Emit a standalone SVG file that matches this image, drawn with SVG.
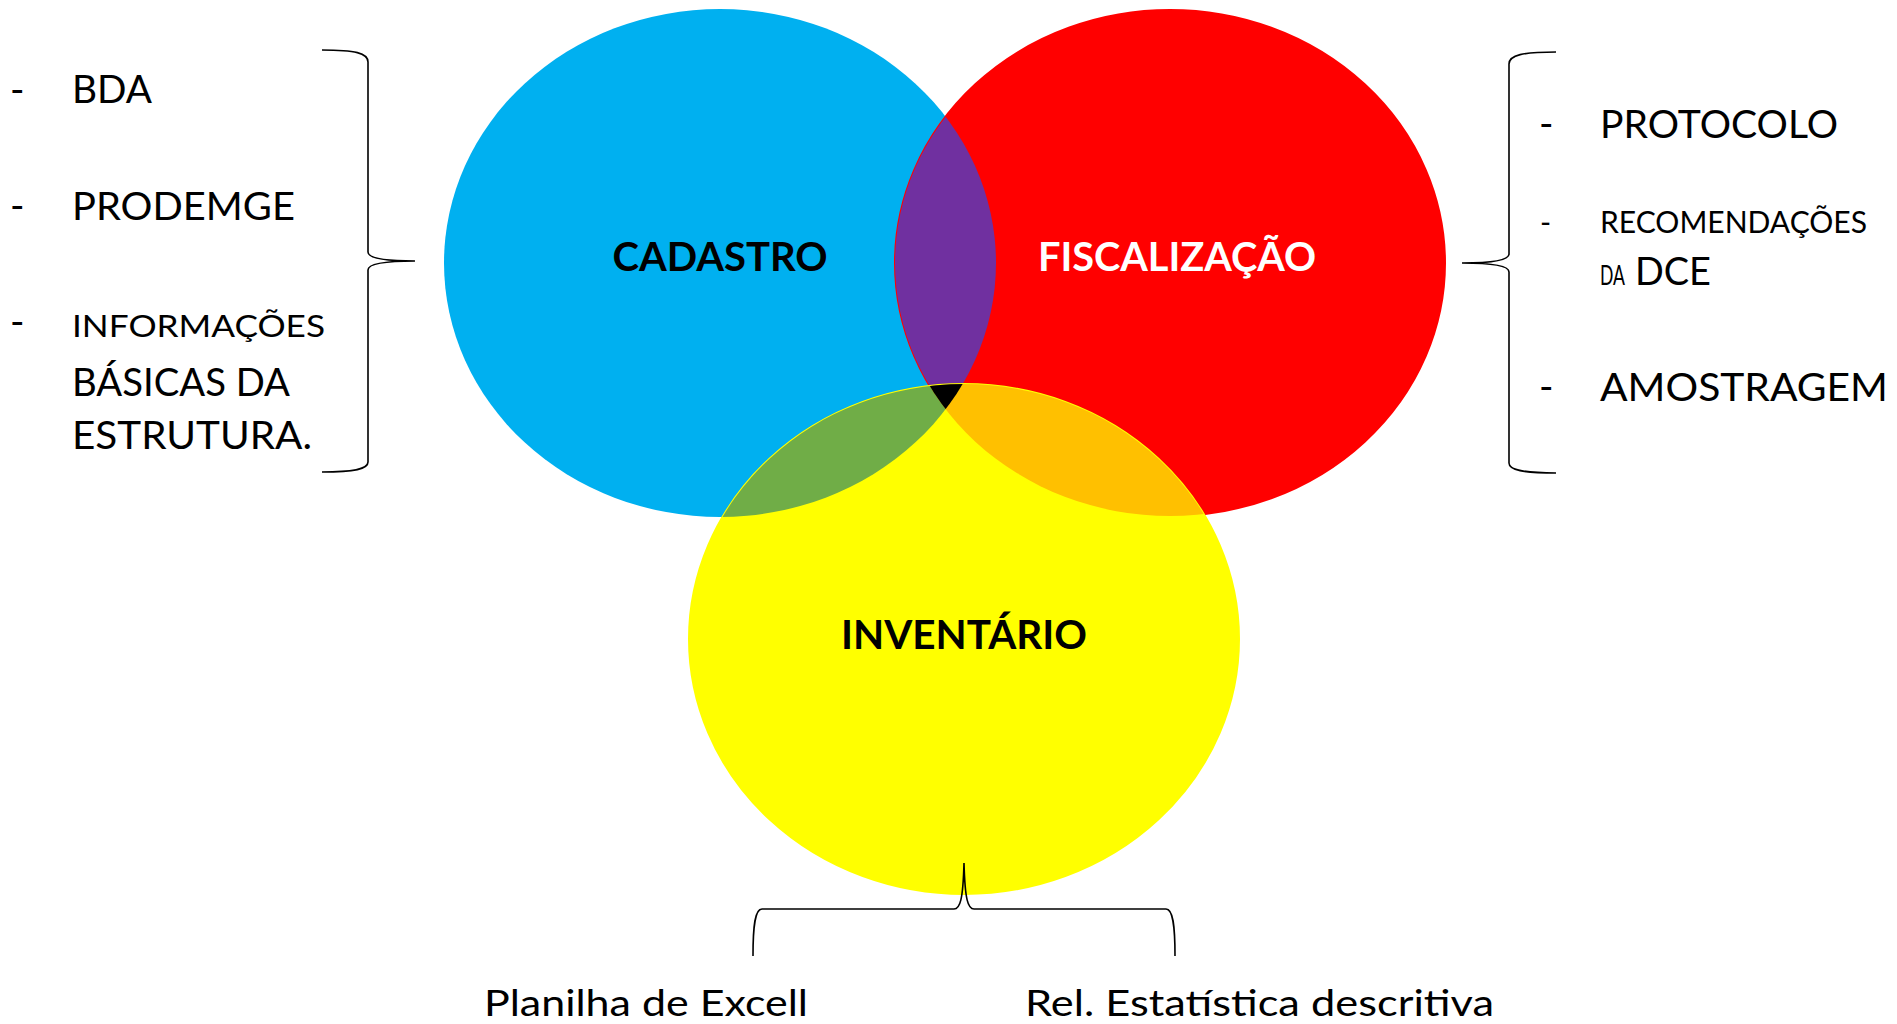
<svg xmlns="http://www.w3.org/2000/svg" width="1897" height="1024" viewBox="0 0 1897 1024">
<style>
  .t { font-family: Lato, "Liberation Sans", sans-serif; fill: #000; }
  .big { font-size: 39px; }
  .small { font-size: 30px; }
  .lbl { font-family: Lato, "Liberation Sans", sans-serif; font-weight: bold; font-size: 40.5px; text-anchor: middle; }
  .brace { fill: none; stroke: #000; stroke-width: 1.6; }
</style>
<defs>
  <clipPath id="cBlue"><ellipse cx="720" cy="263" rx="276" ry="254"/></clipPath>
  <clipPath id="cRed"><ellipse cx="1170" cy="263" rx="275" ry="253"/></clipPath>
</defs>
<rect width="1897" height="1024" fill="#fff"/>

<g id="venn">
  <ellipse id="cadastro-shape" cx="720" cy="263" rx="276" ry="254" fill="#00B0F0"/>
  <ellipse id="fiscalizacao-shape" cx="1170" cy="263" rx="275" ry="253" fill="#FF0000" stroke="#FF0000" stroke-width="2"/>
  <ellipse cx="1170" cy="263" rx="275" ry="253" fill="#7030A0" clip-path="url(#cBlue)"/>
  <ellipse id="inventario-shape" cx="964" cy="639" rx="275" ry="255" fill="#FFFF00" stroke="#FFFF00" stroke-width="2"/>
  <ellipse cx="964" cy="639" rx="275" ry="255" fill="#70AD47" clip-path="url(#cBlue)"/>
  <ellipse cx="964" cy="639" rx="275" ry="255" fill="#FFC000" clip-path="url(#cRed)"/>
  <g clip-path="url(#cBlue)">
    <g clip-path="url(#cRed)">
      <ellipse cx="964" cy="639" rx="275" ry="255" fill="#000"/>
    </g>
  </g>
</g>

<g id="cadastro">
  <text class="lbl" x="720" y="271" fill="#000" textLength="215" lengthAdjust="spacingAndGlyphs">CADASTRO</text>
</g>
<g id="fiscalizacao">
  <text class="lbl" x="1177" y="271" fill="#fff" textLength="278" lengthAdjust="spacingAndGlyphs">FISCALIZAÇÃO</text>
</g>
<g id="inventario">
  <text class="lbl" x="964" y="649" fill="#000" textLength="246" lengthAdjust="spacingAndGlyphs">INVENTÁRIO</text>
</g>

<g id="connectors">
  <path class="brace" d="M322,50 C355,50 368,53 368,62 L368,252 C368,258 385,261 415,261 C385,261 368,264 368,270 L368,462 C368,469 355,472 322,472"/>
  <path class="brace" d="M1556,52 C1523,52 1509,55 1509,64 L1509,254 C1509,260 1492,263 1462,263 C1492,263 1509,266 1509,272 L1509,463 C1509,470 1523,473 1556,473"/>
  <path class="brace" d="M753,956 C753,925 755,909 762,909 L954,909 C960,909 963,900 964,863 C965,900 968,909 974,909 L1166,909 C1173,909 1175,925 1175,956"/>
</g>

<g id="lista-cadastro">
  <text class="t big" x="10" y="103">-</text>
  <text class="t big" x="72" y="103" textLength="80" lengthAdjust="spacingAndGlyphs">BDA</text>
  <text class="t big" x="10" y="219">-</text>
  <text class="t big" x="72" y="220" textLength="223" lengthAdjust="spacingAndGlyphs">PRODEMGE</text>
  <text class="t big" x="10" y="335">-</text>
  <text class="t small" x="72" y="337" textLength="253" lengthAdjust="spacingAndGlyphs">INFORMAÇÕES</text>
  <text class="t big" x="72" y="396" textLength="218" lengthAdjust="spacingAndGlyphs">BÁSICAS DA</text>
  <text class="t big" x="72" y="449" textLength="240" lengthAdjust="spacingAndGlyphs">ESTRUTURA.</text>
</g>

<g id="lista-fiscalizacao">
  <text class="t big" x="1539" y="137">-</text>
  <text class="t big" x="1600" y="138" textLength="238" lengthAdjust="spacingAndGlyphs">PROTOCOLO</text>
  <text class="t small" x="1540" y="233">-</text>
  <text class="t small" x="1600" y="233" textLength="267" lengthAdjust="spacingAndGlyphs">RECOMENDAÇÕES</text>
  <text class="t" x="1600" y="285"><tspan font-size="27" textLength="25" lengthAdjust="spacingAndGlyphs">DA</tspan><tspan x="1635" font-size="39" textLength="76" lengthAdjust="spacingAndGlyphs">DCE</tspan></text>
  <text class="t big" x="1539" y="400">-</text>
  <text class="t big" x="1600" y="401" textLength="288" lengthAdjust="spacingAndGlyphs">AMOSTRAGEM</text>
</g>

<g id="lista-inventario">
  <text class="t" x="484" y="1016" font-size="37" textLength="324" lengthAdjust="spacingAndGlyphs">Planilha de Excell</text>
  <text class="t" x="1025" y="1016" font-size="37" textLength="469" lengthAdjust="spacingAndGlyphs">Rel. Estatística descritiva</text>
</g>
</svg>
